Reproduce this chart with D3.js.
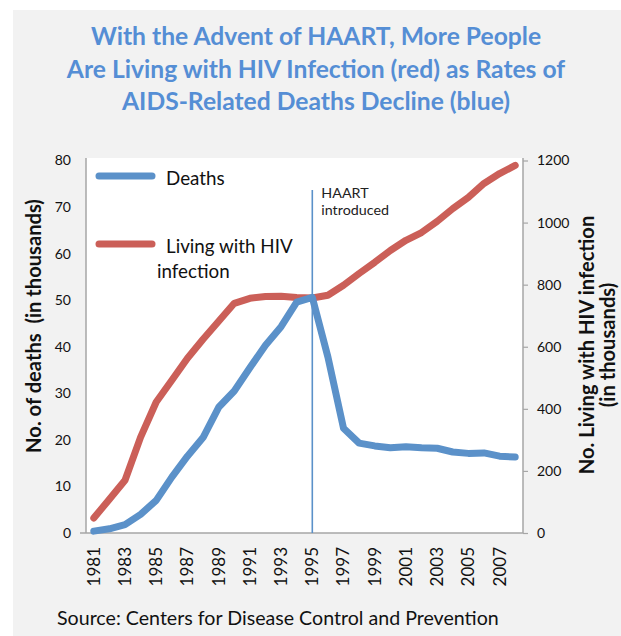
<!DOCTYPE html>
<html>
<head>
<meta charset="utf-8">
<script src="https://cdn.jsdelivr.net/npm/d3@7"></script>
<style>
  html, body { margin: 0; padding: 0; background: #ffffff; }
  svg { display: block; }
  text { font-family: Lato, "Open Sans", sans-serif; }
</style>
</head>
<body>
<div id="chart"></div>
<script>
const years = d3.range(1981, 2009);
const deaths = [0.4, 0.9, 1.8, 4.0, 7.0, 12.0, 16.5, 20.5, 27.0, 30.5, 35.5, 40.3, 44.3, 49.6, 50.6,
                37.8, 22.5, 19.3, 18.7, 18.3, 18.5, 18.3, 18.2, 17.4, 17.1, 17.2, 16.5, 16.3];
const living = [48, 109, 170, 309, 422, 492, 563, 624, 682, 740, 756, 762, 763, 759, 757,
                766, 798, 836, 872, 910, 943, 968, 1004, 1045, 1081, 1126, 1158, 1184];
const leftTicks = [0, 10, 20, 30, 40, 50, 60, 70, 80];
const rightTicks = [0, 200, 400, 600, 800, 1000, 1200];
const xLabels = [1981, 1983, 1985, 1987, 1989, 1991, 1993, 1995, 1997, 1999, 2001, 2003, 2005, 2007];
const titleLines = ["With the Advent of HAART, More People",
                    "Are Living with HIV Infection (red) as Rates of",
                    "AIDS-Related Deaths Decline (blue)"];
const legendItems = [{name: "Deaths", lines: ["Deaths"]},
                     {name: "Living", lines: ["Living with HIV", "infection"]}];
const haartYear = 1995;
const haartLabel = ["HAART", "introduced"];
const leftTitle = "No. of deaths\u00a0\u00a0(in thousands)";
const rightTitle = ["No. Living with HIV infection", "(in thousands)"];
const source = "Source: Centers for Disease Control and Prevention";

const W = 621, H = 636;
const blue = "#5b91c9", red = "#cb5f58", titleColor = "#558ed5";
const plot = {left: 86, right: 523, top: 158, bottom: 533};

// scale a text's font-size so that its rendered length matches a target length
function fitSize(sel, target) {
  const fs = parseFloat(sel.attr("font-size"));
  const len = sel.node().getComputedTextLength();
  return fs * target / len;
}

const svg = d3.select("#chart").append("svg").attr("width", W).attr("height", H);

// panel background
svg.append("rect").attr("x", 13).attr("y", 10).attr("width", W - 13).attr("height", H - 10).attr("fill", "#f2f2f2");
svg.append("rect").attr("x", plot.left).attr("y", plot.top)
  .attr("width", plot.right - plot.left).attr("height", plot.bottom - plot.top).attr("fill", "#ffffff");

// title
const titleTexts = titleLines.map((t, i) =>
  svg.append("text").attr("x", 316).attr("y", 45 + i * 32.5)
    .attr("text-anchor", "middle").attr("font-size", 23).attr("font-weight", "bold")
    .attr("fill", titleColor).text(t));
const titleTargets = [451, 500, 387];
const tfs = d3.mean(titleTexts.map((s, i) => fitSize(s, titleTargets[i])));
titleTexts.forEach(s => s.attr("font-size", tfs));

const x = d3.scaleBand().domain(years).range([plot.left, plot.right]);
const xc = d => x(d) + x.bandwidth() / 2;
const yL = d3.scaleLinear().domain([0, 80]).range([plot.bottom, 160.5]);
const yR = d3.scaleLinear().domain([0, 1200]).range([plot.bottom, 160.5]);

// left axis
const gL = svg.append("g").attr("transform", `translate(${plot.left},0)`)
  .call(d3.axisLeft(yL).tickValues(leftTicks).tickSize(0).tickPadding(15));
gL.select(".domain").attr("stroke", "#a6a6a6").attr("stroke-width", 1.5)
  .attr("d", `M0,${plot.top}V${plot.bottom}`);
gL.selectAll("text").attr("font-size", 14).attr("fill", "#111").style("font-family", "Lato, sans-serif");

// right axis
const gR = svg.append("g").attr("transform", `translate(${plot.right},0)`)
  .call(d3.axisRight(yR).tickValues(rightTicks).tickFormat(d3.format("d")).tickSize(5).tickPadding(9));
gR.select(".domain").attr("stroke", "#a6a6a6").attr("stroke-width", 1.5)
  .attr("d", `M0,${plot.top}V${plot.bottom}`);
gR.selectAll(".tick line").attr("stroke", "#a6a6a6").attr("stroke-width", 1.2);
gR.selectAll("text").attr("font-size", 14).attr("fill", "#111").style("font-family", "Lato, sans-serif");

// bottom axis
const gB = svg.append("g").attr("transform", `translate(0,${plot.bottom})`)
  .call(d3.axisBottom(x).tickValues(xLabels).tickSize(0).tickPadding(0));
gB.select(".domain").attr("stroke", "#a6a6a6").attr("stroke-width", 1.5)
  .attr("d", `M${plot.left - 6},0H${plot.right}`);
gB.selectAll("text").attr("font-size", 17).attr("fill", "#111").style("font-family", "Lato, sans-serif")
  .attr("transform", "translate(0,14) rotate(-90)")
  .attr("text-anchor", "end").attr("dy", "0.35em").attr("x", 0).attr("y", 0);

// HAART line
svg.append("line").attr("x1", xc(haartYear)).attr("x2", xc(haartYear))
  .attr("y1", 190).attr("y2", plot.bottom).attr("stroke", blue).attr("stroke-width", 1.6);
haartLabel.forEach((t, i) => {
  svg.append("text").attr("x", xc(haartYear) + 9).attr("y", 198 + i * 17)
    .attr("font-size", 14.3).attr("fill", "#222").text(t);
});

// series lines
const lineDeaths = d3.line().x((d, i) => xc(years[i])).y(d => yL(d));
const lineLiving = d3.line().x((d, i) => xc(years[i])).y(d => yR(d));
svg.append("path").datum(living).attr("d", lineLiving).attr("fill", "none")
  .attr("stroke", red).attr("stroke-width", 7).attr("stroke-linecap", "round").attr("stroke-linejoin", "round");
svg.append("path").datum(deaths).attr("d", lineDeaths).attr("fill", "none")
  .attr("stroke", blue).attr("stroke-width", 7).attr("stroke-linecap", "round").attr("stroke-linejoin", "round");

// legend
const legColors = {Deaths: blue, Living: red};
const legY = [176, 244];
legendItems.forEach((it, i) => {
  svg.append("line").attr("x1", 99).attr("x2", 152).attr("y1", legY[i]).attr("y2", legY[i])
    .attr("stroke", legColors[it.name]).attr("stroke-width", 7).attr("stroke-linecap", "round");
  it.lines.forEach((t, j) => {
    svg.append("text").attr("x", j === 0 ? 166 : 157).attr("y", legY[i] + 9 + j * 25)
      .attr("font-size", 18.8).attr("fill", "#111").text(t);
  });
});

// axis titles
const lt = svg.append("text").attr("transform", "translate(41,326) rotate(-90)")
  .attr("text-anchor", "middle").attr("font-size", 17).attr("font-weight", "bold").attr("fill", "#111")
  .text(leftTitle);
const afs = fitSize(lt, 254);
lt.attr("font-size", afs);
rightTitle.forEach((t, i) => {
  svg.append("text").attr("transform", `translate(${594 + i * 21},345) rotate(-90)`)
    .attr("text-anchor", "middle").attr("font-size", afs).attr("font-weight", "bold").attr("fill", "#111")
    .text(t);
});

// source
const src = svg.append("text").attr("x", 57).attr("y", 625).attr("font-size", 17.5).attr("fill", "#111").text(source);
src.attr("font-size", fitSize(src, 442));
</script>
</body>
</html>
